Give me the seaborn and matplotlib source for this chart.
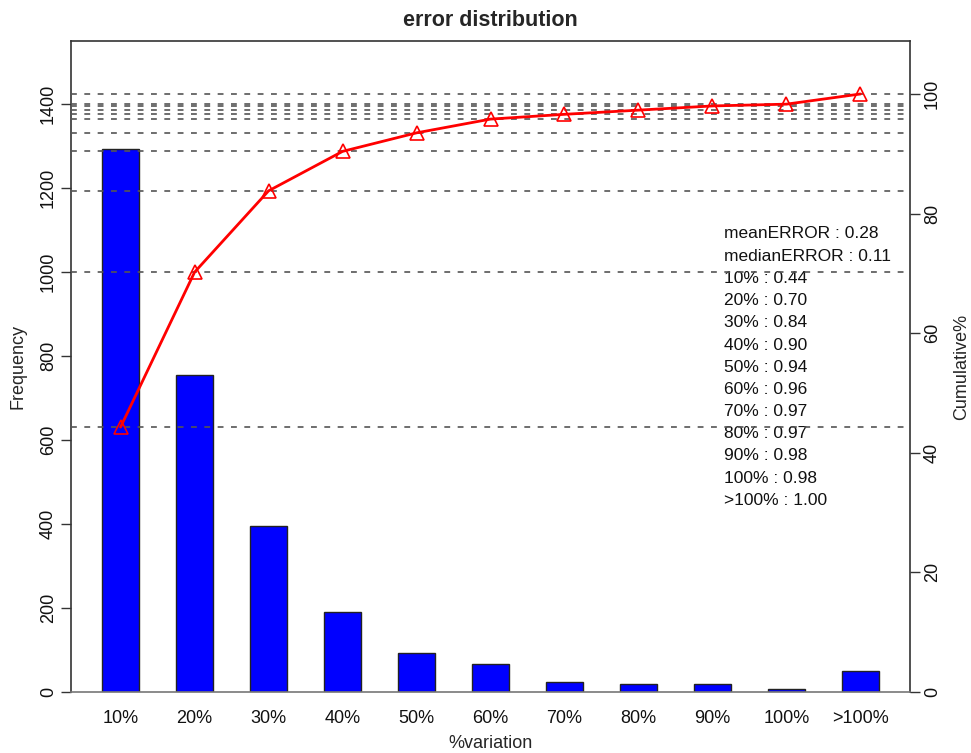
import numpy as np
import pandas as pd
import matplotlib
matplotlib.use("Agg")
import matplotlib.pyplot as plt
import seaborn as sns

# ---- data ----
categories = ["10%", "20%", "30%", "40%", "50%", "60%", "70%", "80%", "90%", "100%", ">100%"]
frequency = [1292, 755, 395, 191, 92, 67, 24, 19, 20, 8, 51]
cumulative_pct = [44.3, 70.2, 83.8, 90.4, 93.5, 95.8, 96.6, 97.3, 98.0, 98.3, 100.0]
cumulative_labels = ["0.44", "0.70", "0.84", "0.90", "0.94", "0.96", "0.97", "0.97", "0.98", "0.98", "1.00"]
mean_error = "0.28"
median_error = "0.11"
left_ticks = [0, 200, 400, 600, 800, 1000, 1200, 1400]
right_ticks = [0, 20, 40, 60, 80, 100]

sns.set_theme(style="white")
plt.rcParams["font.family"] = ["Liberation Sans", "DejaVu Sans"]

FS = 13
W, H = 971, 753
fig = plt.figure(figsize=(W / 100, H / 100), dpi=100)
x0, x1, y0, y1 = 71, 910, 692, 41
ax = fig.add_axes([x0 / W, 1 - y0 / H, (x1 - x0) / W, (y0 - y1) / H])

df = pd.DataFrame({"cat": categories, "freq": frequency})
sns.barplot(data=df, x="cat", y="freq", ax=ax, color="#0000ff", saturation=1,
            width=0.5, edgecolor="#222222", linewidth=1.0, zorder=2)
ax.set_ylim(0, 1550)
ax.set_xlim(-0.67, 10.67)
ax.set_yticks(left_ticks)
ax.set_yticklabels([str(t) for t in left_ticks], rotation=90, va="center", fontsize=FS)
ax.tick_params(axis="y", direction="out", length=7, width=1, color="#333333", pad=3, left=True)
ax.tick_params(axis="x", length=0, pad=13, labelsize=FS)
ax.set_xlabel("%variation", fontsize=FS)
ax.set_ylabel("Frequency", fontsize=FS)
ax.xaxis.set_label_coords(0.5, (y0 - 744) / (y0 - y1))
ax.xaxis.label.set_va("center")
ax.yaxis.set_label_coords((18 - x0) / (x1 - x0), 0.5)
ax.yaxis.label.set_va("center")
fig.text(490 / W, 1 - 20 / H, "error distribution", fontsize=15.5, fontweight="bold",
         ha="center", va="center")
for s in ax.spines.values():
    s.set_color("#333333")
    s.set_linewidth(1.2)
ax.spines["bottom"].set_color("#777777")
for lab in ax.get_xticklabels() + ax.get_yticklabels():
    lab.set_color("#111111")

ax2 = ax.twinx()
dfc = pd.DataFrame({"cat": categories, "cum": cumulative_pct})
sns.pointplot(data=dfc, x="cat", y="cum", ax=ax2, color="red", markers="^",
              linestyles="-", markersize=10, linewidth=2, zorder=5)
for ln in ax2.lines:
    ln.set_markerfacecolor("none")
    ln.set_markeredgecolor("red")
    ln.set_markeredgewidth(1.2)
for v in cumulative_pct:
    ax2.axhline(v, color="#555555", linestyle=(0, (3.5, 4.5)), linewidth=1.2, zorder=4)
ax2.set_ylim(0, 108.86)
ax2.set_xlim(-0.67, 10.67)
ax2.set_yticks(right_ticks)
ax2.set_yticklabels([str(t) for t in right_ticks], rotation=90, va="center", fontsize=FS)
ax2.tick_params(axis="y", direction="out", length=7, width=1, color="#333333", pad=3, right=True)
ax2.set_ylabel("Cumulative%", fontsize=FS)
ax2.yaxis.set_label_coords((962 - x0) / (x1 - x0), 0.5)
ax2.yaxis.label.set_va("center")
ax2.set_xlabel("")
ax2.grid(False)
ax.grid(False)
for s in ax2.spines.values():
    s.set_visible(False)
for lab in ax2.get_yticklabels():
    lab.set_color("#111111")

# statistics text block
lines = ["meanERROR : " + mean_error, "medianERROR : " + median_error]
lines += [c + " : " + l for c, l in zip(categories, cumulative_labels)]
tx = (724 - x0) / (x1 - x0)
for i, t in enumerate(lines):
    ty = (y0 - (234 + i * 22.2)) / (y0 - y1)
    ax.text(tx, ty, t, transform=ax.transAxes, fontsize=12.5, va="center", ha="left",
            color="#111111", zorder=6)

fig.savefig("out.png", dpi=100)
